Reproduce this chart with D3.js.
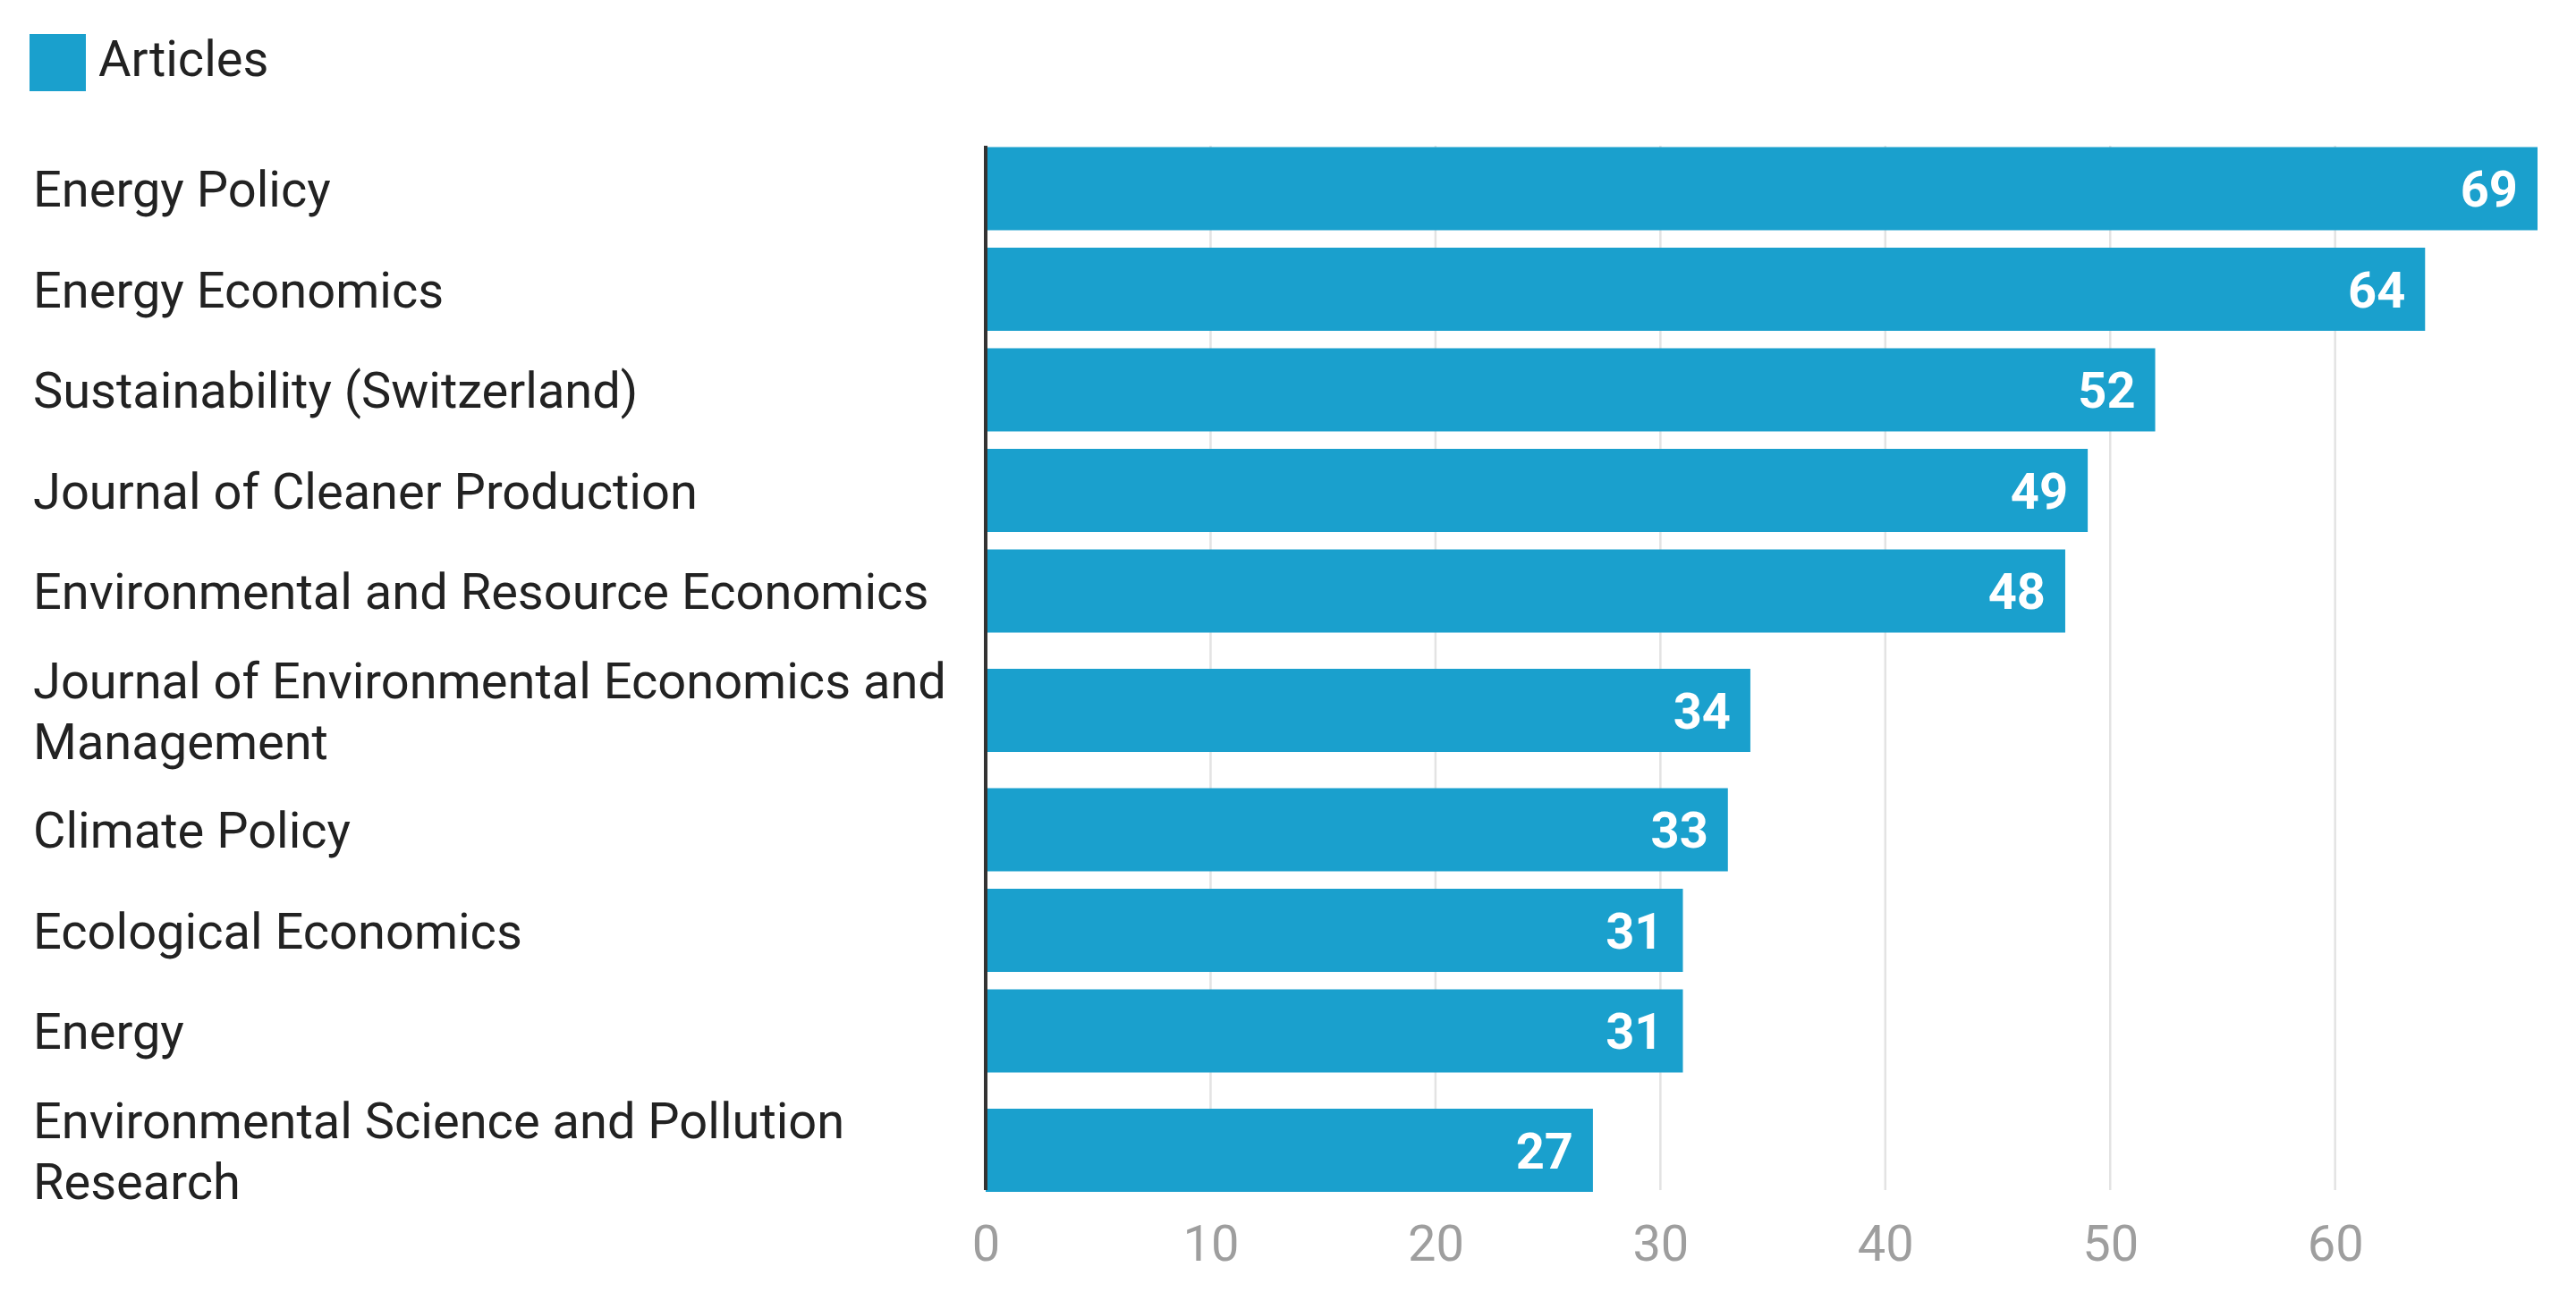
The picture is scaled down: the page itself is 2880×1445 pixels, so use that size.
<!DOCTYPE html>
<html>
<head>
<meta charset="utf-8">
<script src="https://cdn.jsdelivr.net/npm/d3@7"></script>
<style>
  html, body { margin: 0; padding: 0; background: #ffffff; }
  svg { display: block; font-family: Roboto, "Noto Sans", sans-serif; }
</style>
</head>
<body>
<svg id="chart" width="2880" height="1445"></svg>
<script>
const categories = [
  "Energy Policy",
  "Energy Economics",
  "Sustainability (Switzerland)",
  "Journal of Cleaner Production",
  "Environmental and Resource Economics",
  "Journal of Environmental Economics and Management",
  "Climate Policy",
  "Ecological Economics",
  "Energy",
  "Environmental Science and Pollution Research"
];
const articles = [69, 64, 52, 49, 48, 34, 33, 31, 31, 27];
const xTicks = [0, 10, 20, 30, 40, 50, 60];
const seriesName = "Articles";

const W = 2880, H = 1445;
const svg = d3.select("#chart");
const barColor = "#1aa0cd";
const labelFont = 56;
const lineH = 68;
const labelX = 37;
const maxLabelW = 1050;

// measure & wrap labels
const measure = svg.append("text").attr("font-size", labelFont).attr("visibility", "hidden");
function textW(s) { measure.text(s); return measure.node().getComputedTextLength(); }
function wrap(s) {
  const words = s.split(" ");
  const lines = [];
  let cur = "";
  words.forEach(w => {
    const t = cur ? cur + " " + w : w;
    if (cur && textW(t) > maxLabelW) { lines.push(cur); cur = w; }
    else cur = t;
  });
  if (cur) lines.push(cur);
  return lines;
}
const wrapped = categories.map(wrap);
measure.remove();

// row layout in units: single line = 1, each extra line adds a fraction
const extraPerLine = 42 / 112.5;
const units = wrapped.map(l => 1 + (l.length - 1) * extraPerLine);
const starts = [];
let acc = 0;
units.forEach(u => { starts.push(acc); acc += u; });
const total = acc;

const y = d3.scaleLinear().domain([0, total]).range([154.75, 1363.75]);
const x = d3.scaleLinear().domain([0, 69]).range([1102, 2837]);
const barH = 93;
const center = i => y(starts[i] + units[i] / 2);

const plotTop = 163, plotBottom = 1331;

// gridlines
svg.append("g").selectAll("line")
  .data(xTicks.filter(t => t > 0))
  .join("line")
  .attr("x1", d => x(d)).attr("x2", d => x(d))
  .attr("y1", plotTop).attr("y2", plotBottom)
  .attr("stroke", "#e3e3e3").attr("stroke-width", 2.5);

// bars
svg.append("g").selectAll("rect")
  .data(articles)
  .join("rect")
  .attr("x", x(0))
  .attr("y", (d, i) => center(i) - barH / 2)
  .attr("width", d => x(d) - x(0))
  .attr("height", barH)
  .attr("fill", barColor);

// value labels
svg.append("g").selectAll("text")
  .data(articles)
  .join("text")
  .attr("x", d => x(d) - 22)
  .attr("y", (d, i) => center(i) + 20)
  .attr("text-anchor", "end")
  .attr("font-size", 56)
  .attr("font-weight", "bold")
  .attr("fill", "#ffffff")
  .text(d => d);

// baseline axis line
svg.append("line")
  .attr("x1", x(0)).attr("x2", x(0))
  .attr("y1", plotTop).attr("y2", plotBottom)
  .attr("stroke", "#333333").attr("stroke-width", 4);

// category labels
const lab = svg.append("g").selectAll("text")
  .data(wrapped)
  .join("text")
  .attr("x", labelX)
  .attr("font-size", labelFont)
  .attr("fill", "#222222");
lab.each(function(lines, i) {
  const c = center(i);
  const first = c + 20 - (lines.length - 1) * lineH / 2;
  d3.select(this).selectAll("tspan")
    .data(lines)
    .join("tspan")
    .attr("x", labelX)
    .attr("y", (l, j) => first + j * lineH)
    .text(l => l);
});

// x axis tick labels
const axis = d3.axisBottom(x).tickValues(xTicks).tickSize(0).tickPadding(0);
const ag = svg.append("g").attr("transform", `translate(0, 1370)`).call(axis);
ag.select(".domain").remove();
ag.selectAll("text")
  .attr("font-size", 56)
  .attr("font-family", "Roboto, 'Noto Sans', sans-serif")
  .attr("fill", "#9e9e9e")
  .attr("dy", "0.71em");

// legend
svg.append("rect")
  .attr("x", 33).attr("y", 38).attr("width", 63).attr("height", 64)
  .attr("fill", barColor);
svg.append("text")
  .attr("x", 110).attr("y", 85)
  .attr("font-size", labelFont)
  .attr("fill", "#222222")
  .text(seriesName);
</script>
</body>
</html>
